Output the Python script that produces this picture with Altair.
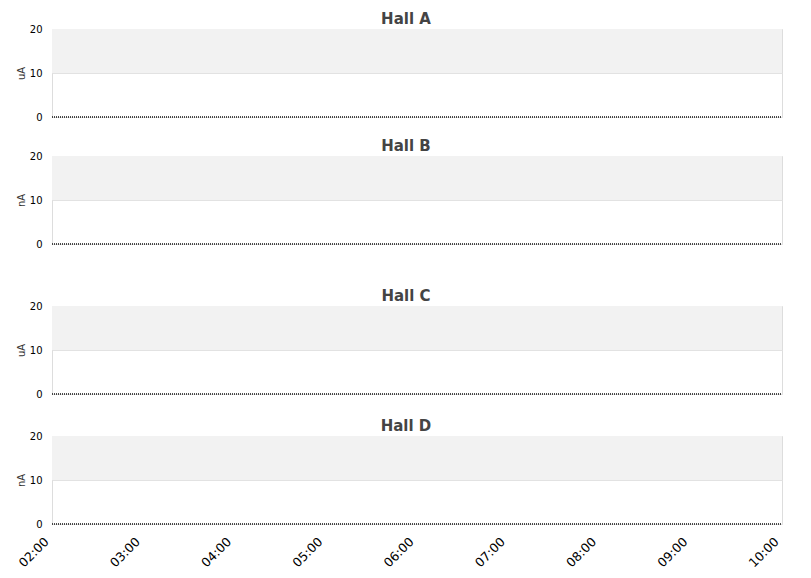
import altair as alt
import pandas as pd

halls = ["Hall A", "Hall B", "Hall C", "Hall D"]
units = ["uA", "nA", "uA", "nA"]
times = ["2024-01-01T02:00:00", "2024-01-01T10:00:00"]
values = [0, 0]
band_low = [10]
band_high = [20]
tick_hours = [2, 3, 4, 5, 6, 7, 8, 9, 10]
y_ticks = [0, 10, 20]

line_df = pd.DataFrame({"time": times, "value": values})
band_df = pd.DataFrame({"start": [times[0]], "end": [times[-1]], "lo": band_low, "hi": band_high})

x_scale = alt.Scale(domain=[alt.DateTime(year=2024, month=1, date=1, hours=2),
                            alt.DateTime(year=2024, month=1, date=1, hours=10)], nice=False)
y_scale = alt.Scale(domain=[0, 20], nice=False)

bottom_axis = alt.Axis(format="%H:%M", labelAngle=-45, title=None, grid=False, domain=False,
                       ticks=False, labelFontSize=12.5, labelColor="#000", labelPadding=11,
                       labelOffset=-10,
                       values=[alt.DateTime(year=2024, month=1, date=1, hours=h) for h in tick_hours])
hidden_axis = alt.Axis(labels=False, ticks=False, domain=False, title=None, grid=False)


def panel(name, unit, show_x):
    xax = bottom_axis if show_x else hidden_axis
    yax = alt.Axis(values=y_ticks, title=unit, grid=True, gridColor="#e2e2e2", domain=False,
                   ticks=False, labelFontSize=10, labelColor="#000", titleFontSize=10,
                   titleFontWeight="normal", titleColor="#333", labelPadding=10, titlePadding=3)
    band = alt.Chart(band_df).mark_rect(color="#f2f2f2").encode(
        x=alt.X("start:T", scale=x_scale, axis=xax),
        x2="end:T",
        y=alt.Y("lo:Q", scale=y_scale, axis=yax),
        y2="hi:Q",
    )
    line = alt.Chart(line_df).mark_line(color="#111", strokeWidth=1.6, strokeDash=[1, 1]).encode(
        x=alt.X("time:T", scale=x_scale, axis=xax),
        y=alt.Y("value:Q", scale=y_scale, axis=yax),
    )
    return alt.layer(band, line).properties(
        width=730, height=88,
        title=alt.TitleParams(name, fontSize=15, fontWeight="bold", color="#444", anchor="middle",
                              offset=-3, dx=-11),
    )


top = alt.vconcat(panel(halls[0], units[0], False), panel(halls[1], units[1], False), spacing=15)
bottom = alt.vconcat(panel(halls[2], units[2], False), panel(halls[3], units[3], True), spacing=18)

chart = alt.vconcat(top, bottom, spacing=38).properties(
    padding={"top": 3, "left": 7, "right": 5, "bottom": 0}
).configure(font="DejaVu Sans").configure_view(stroke="#dddddd")

chart.save("out.html", embed_options={"renderer": "svg", "actions": False})
